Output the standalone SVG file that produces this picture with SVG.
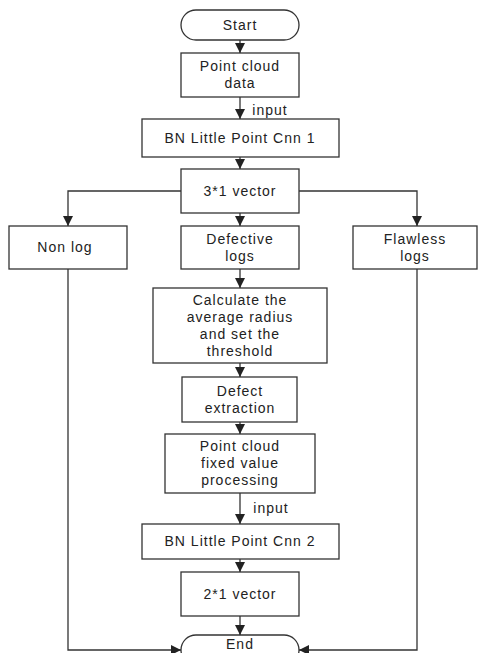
<svg xmlns="http://www.w3.org/2000/svg" width="478" height="653" viewBox="0 0 478 653">
<defs>
<marker id="ah" markerUnits="userSpaceOnUse" markerWidth="10" markerHeight="10" viewBox="0 0 10 10" refX="10" refY="5" orient="auto">
<path d="M0,0 L10,5 L0,10 Z" fill="#222"/>
</marker>
<style>
.b{fill:#fff;stroke:#333;stroke-width:1.3}
.t{font-family:"Liberation Sans",Arial,sans-serif;font-size:14px;fill:#222;text-anchor:middle;letter-spacing:1px}
.c{fill:none;stroke:#333;stroke-width:1.3;marker-end:url(#ah)}
</style>
</defs>
<rect width="478" height="653" fill="#fff"/>
<g id="start"><rect class="b" x="181" y="10" width="118" height="30" rx="15"/><text class="t" x="240" y="30">Start</text></g>
<g id="pcd"><rect class="b" x="181" y="53" width="118" height="44"/><text class="t" x="240" y="71">Point cloud</text><text class="t" x="240" y="88">data</text></g>
<g id="bn1"><rect class="b" x="142" y="119" width="197" height="38"/><text class="t" x="240" y="143">BN Little Point Cnn 1</text></g>
<g id="v31"><rect class="b" x="181" y="169" width="118" height="44"/><text class="t" x="240" y="196">3*1 vector</text></g>
<g id="nonlog"><rect class="b" x="9" y="226" width="118" height="43"/><text class="t" x="65" y="252">Non log</text></g>
<g id="defective"><rect class="b" x="181" y="226" width="118" height="43"/><text class="t" x="240" y="244">Defective</text><text class="t" x="240" y="261">logs</text></g>
<g id="flawless"><rect class="b" x="353" y="226" width="124" height="43"/><text class="t" x="415" y="244">Flawless</text><text class="t" x="415" y="261">logs</text></g>
<g id="calc"><rect class="b" x="153" y="288" width="174" height="75"/><text class="t" x="240" y="305">Calculate the</text><text class="t" x="240" y="322">average radius</text><text class="t" x="240" y="339">and set the</text><text class="t" x="240" y="356">threshold</text></g>
<g id="defect"><rect class="b" x="182" y="377" width="115" height="45"/><text class="t" x="240" y="396">Defect</text><text class="t" x="240" y="413">extraction</text></g>
<g id="pcfv"><rect class="b" x="165" y="434" width="150" height="59"/><text class="t" x="240" y="451">Point cloud</text><text class="t" x="240" y="468">fixed value</text><text class="t" x="240" y="485">processing</text></g>
<g id="bn2"><rect class="b" x="142" y="524" width="197" height="35"/><text class="t" x="240" y="546">BN Little Point Cnn 2</text></g>
<g id="v21"><rect class="b" x="181" y="572" width="118" height="44"/><text class="t" x="240" y="599">2*1 vector</text></g>
<g id="end"><rect class="b" x="181" y="635" width="118" height="30" rx="15"/><text class="t" x="240" y="649">End</text></g>
<g id="connectors">
<path class="c" d="M240,40 V53"/>
<path class="c" d="M240,97 V119"/>
<path class="c" d="M240,157 V169"/>
<path class="c" d="M240,213 V226"/>
<path class="c" d="M181,191 H68 V226"/>
<path class="c" d="M299,191 H417 V226"/>
<path class="c" d="M240,269 V288"/>
<path class="c" d="M240,363 V377"/>
<path class="c" d="M240,422 V434"/>
<path class="c" d="M240,493 V524"/>
<path class="c" d="M240,559 V572"/>
<path class="c" d="M240,616 V635"/>
<path class="c" d="M68,269 V650 H181"/>
<path class="c" d="M417,269 V650 H299"/>
<text class="t" x="270" y="115">input</text>
<text class="t" x="271" y="513">input</text>
</g>
</svg>
